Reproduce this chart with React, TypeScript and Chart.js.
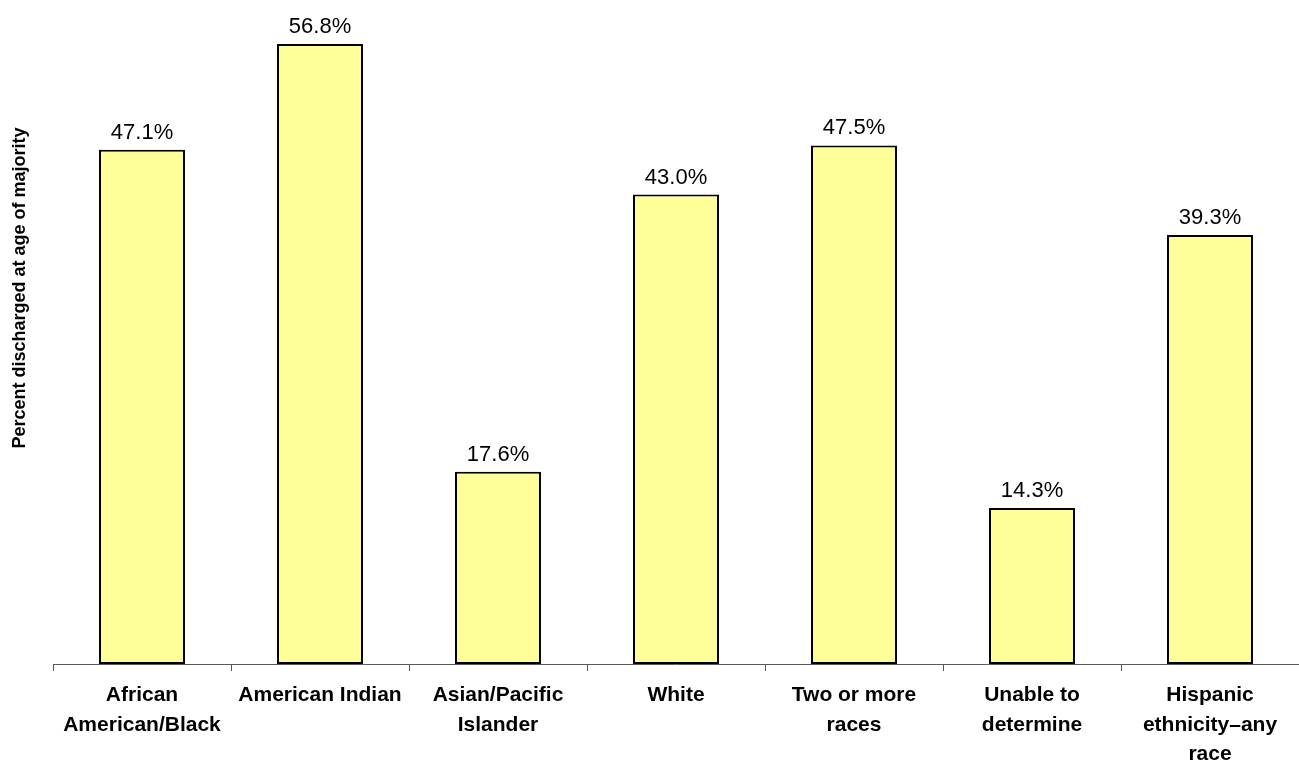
import React, { useEffect, useRef } from "react";
import { Chart, registerables } from "chart.js";

Chart.register(...registerables);

const categories: string[][] = [
  ["African", "American/Black"],
  ["American Indian"],
  ["Asian/Pacific", "Islander"],
  ["White"],
  ["Two or more", "races"],
  ["Unable to", "determine"],
  ["Hispanic", "ethnicity\u2013any", "race"],
];
const values: number[] = [47.1, 56.8, 17.6, 43.0, 47.5, 14.3, 39.3];
const yTitle = "Percent discharged at age of majority";
const FONT = "Arial, 'Liberation Sans', Helvetica, sans-serif";

const valueLabels = {
  id: "valueLabels",
  afterDatasetsDraw(chart: any) {
    const ctx = chart.ctx;
    const meta = chart.getDatasetMeta(0);
    ctx.save();
    ctx.font = `22px ${FONT}`;
    ctx.fillStyle = "#000";
    ctx.textAlign = "center";
    ctx.textBaseline = "alphabetic";
    meta.data.forEach((bar: any, i: number) => {
      ctx.fillText(values[i].toFixed(1) + "%", bar.x, bar.y - 11);
    });
    ctx.restore();
  },
};

const yTitlePlugin = {
  id: "yTitlePlugin",
  afterDraw(chart: any) {
    const ctx = chart.ctx;
    ctx.save();
    ctx.font = `bold 18px ${FONT}`;
    ctx.fillStyle = "#000";
    ctx.textAlign = "center";
    ctx.textBaseline = "middle";
    ctx.translate(20, 288);
    ctx.rotate(-Math.PI / 2);
    ctx.fillText(yTitle, 0, 0);
    ctx.restore();
  },
};

export default function App() {
  const ref = useRef<HTMLCanvasElement | null>(null);
  useEffect(() => {
    if (!ref.current) return;
    const chart = new Chart(ref.current, {
      type: "bar",
      data: {
        labels: categories,
        datasets: [
          {
            data: values,
            backgroundColor: "#FFFF99",
            borderColor: "#000000",
            borderWidth: 2,
            borderSkipped: false,
            barPercentage: 0.483,
            categoryPercentage: 1,
          },
        ],
      },
      options: {
        animation: false,
        responsive: false,
        maintainAspectRatio: false,
        layout: { padding: { left: 53, top: 9, right: 0, bottom: 0 } },
        plugins: { legend: { display: false }, tooltip: { enabled: false } },
        scales: {
          x: {
            offset: true,
            border: { display: true, color: "#5a5a5a", width: 1 },
            grid: {
              offset: true,
              drawOnChartArea: false,
              drawTicks: true,
              tickLength: 7,
              color: "#5a5a5a",
            },
            ticks: {
              color: "#000",
              font: { family: FONT, size: 21, weight: "bold", lineHeight: 1.4 },
              padding: 10,
              maxRotation: 0,
              autoSkip: false,
            },
            afterFit: (scale: any) => {
              scale.height = 99;
            },
          },
          y: {
            display: false,
            min: 0,
            max: 60,
          },
        },
      },
      plugins: [valueLabels, yTitlePlugin],
    });
    return () => chart.destroy();
  }, []);
  return (
    <div style={{ position: "absolute", left: 0, top: 0, width: 1299, height: 763, background: "#fff" }}>
      <canvas ref={ref} width={1299} height={763} style={{ width: 1299, height: 763 }} />
    </div>
  );
}
